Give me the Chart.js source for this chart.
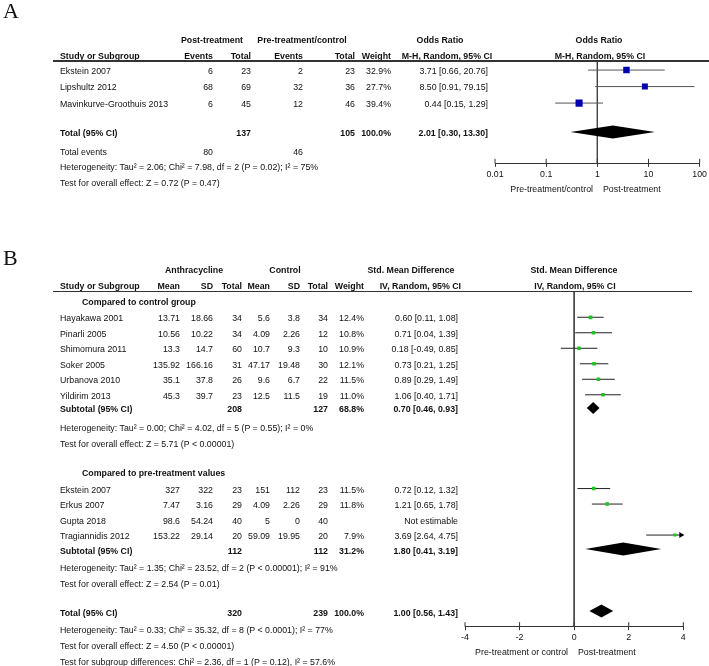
<!DOCTYPE html>
<html><head><meta charset="utf-8">
<script src="https://cdn.jsdelivr.net/npm/chart.js@4.4.1/dist/chart.umd.min.js"></script>
<style>
html,body{margin:0;padding:0;background:#fff;}
#wrap{position:relative;width:709px;height:666px;overflow:hidden;background:#fff;}
canvas{position:absolute;left:0;top:0;}
.t{position:absolute;white-space:nowrap;font-family:"Liberation Sans",Arial,sans-serif;font-size:8.8px;line-height:12px;color:#111;}
.b{font-weight:bold;}
.lab{position:absolute;font-family:"Liberation Serif","Times New Roman",serif;font-size:22px;line-height:22px;color:#111;}
.hr{position:absolute;height:1.5px;background:#333;}
</style></head>
<body><div id="wrap">
<canvas id="cA" width="709" height="666"></canvas>
<canvas id="cB" width="709" height="666"></canvas>
</div>
<script>
// ---------------- Panel A data ----------------
const studiesA = ['Ekstein 2007', 'Lipshultz 2012', 'Mavinkurve-Groothuis 2013'];
const postEvents = [6, 68, 6];
const postTotal = [23, 69, 45];
const preEvents = [2, 32, 12];
const preTotal = [23, 36, 46];
const weightA = [32.9, 27.7, 39.4];
const orA = [3.71, 8.50, 0.44];
const orLo = [0.66, 0.91, 0.15];
const orHi = [20.76, 79.15, 1.29];
const totalA = [2.01, 0.30, 13.30];      // estimate, lower, upper
const totalNA = [137, 105];
const totalEventsA = [80, 46];
const ticksA = [0.01, 0.1, 1, 10, 100];

// ---------------- Panel B data ----------------
const g1Names = ['Hayakawa 2001', 'Pinarli 2005', 'Shimomura 2011', 'Soker 2005', 'Urbanova 2010', 'Yildirim 2013'];
const g1Mean = [13.71, 10.56, 13.3, 135.92, 35.1, 45.3];
const g1SD = [18.66, 10.22, 14.7, 166.16, 37.8, 39.7];
const g1N = [34, 34, 60, 31, 26, 23];
const g1CMean = [5.6, 4.09, 10.7, 47.17, 9.6, 12.5];
const g1CSD = [3.8, 2.26, 9.3, 19.48, 6.7, 11.5];
const g1CN = [34, 12, 10, 30, 22, 19];
const g1Weight = [12.4, 10.8, 10.9, 12.1, 11.5, 11.0];
const g1SMD = [0.60, 0.71, 0.18, 0.73, 0.89, 1.06];
const g1Lo = [0.11, 0.04, -0.49, 0.21, 0.29, 0.40];
const g1Hi = [1.08, 1.39, 0.85, 1.25, 1.49, 1.71];
const sub1 = [0.70, 0.46, 0.93];
const sub1N = [208, 127];
const sub1W = 68.8;

const g2Names = ['Ekstein 2007', 'Erkus 2007', 'Gupta 2018', 'Tragiannidis 2012'];
const g2Mean = [327, 7.47, 98.6, 153.22];
const g2SD = [322, 3.16, 54.24, 29.14];
const g2N = [23, 29, 40, 20];
const g2CMean = [151, 4.09, 5, 59.09];
const g2CSD = [112, 2.26, 0, 19.95];
const g2CN = [23, 29, 40, 20];
const g2Weight = [11.5, 11.8, null, 7.9];
const g2SMD = [0.72, 1.21, null, 3.69];
const g2Lo = [0.12, 0.65, null, 2.64];
const g2Hi = [1.32, 1.78, null, 4.75];
const sub2 = [1.80, 0.41, 3.19];
const sub2N = [112, 112];
const sub2W = 31.2;

const totalB = [1.00, 0.56, 1.43];
const totalNB = [320, 239];
const ticksB = [-4, -2, 0, 2, 4];

// ---------------- layout ----------------
const wrap = document.getElementById('wrap');
const FONT = '"Liberation Sans", Arial, sans-serif';
const A_TOP = 61, A_AXIS = 163.3, A_ROW = 16.5;
const B_TOP = 291.7, B_AXIS = 626.7, B_ROW = 15.5;
const yA = u => A_TOP + u * A_ROW;
const yB = u => B_TOP + u * B_ROW;
const rowA = i => 0.55 + i;
const rowTotA = 4.3;
const rowG1 = i => 1.65 + i;
const rowSub1 = 7.5;
const rowG2 = i => 12.7 + i;
const rowSub2 = 16.6;
const rowTotB = 20.6;

function T(s, x, y, align, bold) {
  const d = document.createElement('div');
  d.className = 't' + (bold ? ' b' : '');
  d.textContent = s;
  d.style.left = x + 'px';
  d.style.top = (y - 6) + 'px';
  if (align === 'r') d.style.transform = 'translateX(-100%)';
  else if (align === 'c') d.style.transform = 'translateX(-50%)';
  wrap.appendChild(d);
}
function L(s, x, y) {
  const d = document.createElement('div');
  d.className = 'lab'; d.textContent = s;
  d.style.left = x + 'px'; d.style.top = y + 'px';
  wrap.appendChild(d);
}
function HR(x1, x2, y) {
  const d = document.createElement('div');
  d.className = 'hr';
  d.style.left = x1 + 'px'; d.style.width = (x2 - x1) + 'px'; d.style.top = (y - 0.75) + 'px';
  wrap.appendChild(d);
}
const ci = (e, l, h) => e.toFixed(2) + ' [' + l.toFixed(2) + ', ' + h.toFixed(2) + ']';
const pct = w => w.toFixed(1) + '%';

// ---------------- Panel A text ----------------
L('A', 3, 0);
T('Post-treatment', 212, 40, 'c', true);
T('Pre-treatment/control', 302, 40, 'c', true);
T('Odds Ratio', 440, 40, 'c', true);
T('Odds Ratio', 599, 40, 'c', true);
T('Study or Subgroup', 60, 55.7, 'l', true);
T('Events', 213, 55.7, 'r', true);
T('Total', 251, 55.7, 'r', true);
T('Events', 303, 55.7, 'r', true);
T('Total', 355, 55.7, 'r', true);
T('Weight', 391, 55.7, 'r', true);
T('M-H, Random, 95% CI', 447, 55.7, 'c', true);
T('M-H, Random, 95% CI', 600, 55.7, 'c', true);
HR(53, 709, 61);
studiesA.forEach((s, i) => {
  const y = yA(rowA(i)) + 0.5;
  T(s, 60, y, 'l');
  T(String(postEvents[i]), 213, y, 'r');
  T(String(postTotal[i]), 251, y, 'r');
  T(String(preEvents[i]), 303, y, 'r');
  T(String(preTotal[i]), 355, y, 'r');
  T(pct(weightA[i]), 391, y, 'r');
  T(ci(orA[i], orLo[i], orHi[i]), 488, y, 'r');
});
{
  const y = yA(rowTotA) + 1.5;
  T('Total (95% CI)', 60, y, 'l', true);
  T(String(totalNA[0]), 251, y, 'r', true);
  T(String(totalNA[1]), 355, y, 'r', true);
  T('100.0%', 391, y, 'r', true);
  T(ci(totalA[0], totalA[1], totalA[2]), 488, y, 'r', true);
}
T('Total events', 60, 151.7, 'l');
T(String(totalEventsA[0]), 213, 151.7, 'r');
T(String(totalEventsA[1]), 303, 151.7, 'r');
T('Heterogeneity: Tau² = 2.06; Chi² = 7.98, df = 2 (P = 0.02); I² = 75%', 60, 166.7, 'l');
T('Test for overall effect: Z = 0.72 (P = 0.47)', 60, 183.3, 'l');
T('Pre-treatment/control', 593, 189, 'r');
T('Post-treatment', 603, 189, 'l');

// ---------------- Panel B text ----------------
L('B', 3, 247);
T('Anthracycline', 194, 270, 'c', true);
T('Control', 285, 270, 'c', true);
T('Std. Mean Difference', 411, 270, 'c', true);
T('Std. Mean Difference', 574, 270, 'c', true);
T('Study or Subgroup', 60, 285.7, 'l', true);
T('Mean', 180, 285.7, 'r', true);
T('SD', 213, 285.7, 'r', true);
T('Total', 242, 285.7, 'r', true);
T('Mean', 270, 285.7, 'r', true);
T('SD', 300, 285.7, 'r', true);
T('Total', 328, 285.7, 'r', true);
T('Weight', 364, 285.7, 'r', true);
T('IV, Random, 95% CI', 461, 285.7, 'r', true);
T('IV, Random, 95% CI', 575, 285.7, 'c', true);
HR(53, 692, 291.7);
T('Compared to control group', 82, 301.7, 'l', true);
function studyRow(y, name, m, sd, n, cm, csd, cn, w, e, l, h) {
  T(name, 60, y, 'l');
  T(String(m), 180, y, 'r');
  T(String(sd), 213, y, 'r');
  T(String(n), 242, y, 'r');
  T(String(cm), 270, y, 'r');
  T(String(csd), 300, y, 'r');
  T(String(cn), 328, y, 'r');
  if (w != null) T(pct(w), 364, y, 'r');
  T(e != null ? ci(e, l, h) : 'Not estimable', 458, y, 'r');
}
g1Names.forEach((s, i) => studyRow(yB(rowG1(i)) + 1, s, g1Mean[i], g1SD[i], g1N[i], g1CMean[i], g1CSD[i], g1CN[i], g1Weight[i], g1SMD[i], g1Lo[i], g1Hi[i]));
function subRow(y, label, nn, w, est) {
  T(label, 60, y, 'l', true);
  T(String(nn[0]), 242, y, 'r', true);
  T(String(nn[1]), 328, y, 'r', true);
  T(pct(w), 364, y, 'r', true);
  T(ci(est[0], est[1], est[2]), 458, y, 'r', true);
}
subRow(yB(rowSub1) + 1.5, 'Subtotal (95% CI)', sub1N, sub1W, sub1);
T('Heterogeneity: Tau² = 0.00; Chi² = 4.02, df = 5 (P = 0.55); I² = 0%', 60, 428, 'l');
T('Test for overall effect: Z = 5.71 (P < 0.00001)', 60, 443.7, 'l');
T('Compared to pre-treatment values', 82, 473.3, 'l', true);
g2Names.forEach((s, i) => studyRow(yB(rowG2(i)) + 1, s, g2Mean[i], g2SD[i], g2N[i], g2CMean[i], g2CSD[i], g2CN[i], g2Weight[i], g2SMD[i], g2Lo[i], g2Hi[i]));
subRow(yB(rowSub2) + 1.5, 'Subtotal (95% CI)', sub2N, sub2W, sub2);
T('Heterogeneity: Tau² = 1.35; Chi² = 23.52, df = 2 (P < 0.00001); I² = 91%', 60, 568, 'l');
T('Test for overall effect: Z = 2.54 (P = 0.01)', 60, 584, 'l');
subRow(yB(rowTotB) + 1.5, 'Total (95% CI)', totalNB, 100, totalB);
T('Heterogeneity: Tau² = 0.33; Chi² = 35.32, df = 8 (P < 0.0001); I² = 77%', 60, 630, 'l');
T('Test for overall effect: Z = 4.50 (P < 0.00001)', 60, 646, 'l');
T('Test for subgroup differences: Chi² = 2.36, df = 1 (P = 0.12), I² = 57.6%', 60, 662, 'l');
T('Pre-treatment or control', 568, 652.3, 'r');
T('Post-treatment', 578, 652.3, 'l');

// ---------------- forest plot plugin ----------------
function forestPlugin(diamonds, arrows) {
  return {
    id: 'forest',
    afterDatasetsDraw(chart) {
      const { ctx, scales: { x, y } } = chart;
      ctx.save();
      ctx.fillStyle = '#000';
      diamonds.forEach(d => {
        const xl = x.getPixelForValue(d.lo), xc = x.getPixelForValue(d.est), xh = x.getPixelForValue(d.hi);
        const yc = y.getPixelForValue(d.row);
        ctx.beginPath();
        ctx.moveTo(xl, yc); ctx.lineTo(xc, yc - d.h); ctx.lineTo(xh, yc); ctx.lineTo(xc, yc + d.h);
        ctx.closePath(); ctx.fill();
      });
      arrows.forEach(a => {
        const xe = x.getPixelForValue(x.max), yc = y.getPixelForValue(a.row);
        ctx.beginPath();
        ctx.moveTo(xe + 1, yc); ctx.lineTo(xe - 4, yc - 3); ctx.lineTo(xe - 4, yc + 3);
        ctx.closePath(); ctx.fill();
      });
      ctx.restore();
    },
    afterDraw(chart) {
      const { ctx, scales: { x }, chartArea } = chart;
      ctx.save();
      ctx.strokeStyle = '#333'; ctx.lineWidth = 1;
      x.ticks.forEach(t => {
        const px = x.getPixelForValue(t.value);
        ctx.beginPath(); ctx.moveTo(px, chartArea.bottom - 4.5); ctx.lineTo(px, chartArea.bottom); ctx.stroke();
      });
      ctx.restore();
    }
  };
}
function ciDataset(lo, hi, row, color) {
  return { data: [{ x: lo, y: row }, { x: hi, y: row }], showLine: true, borderColor: color, borderWidth: 1, pointRadius: 0, order: 2 };
}
function xAxis(type, min, max, tickVals, fmt) {
  return {
    type, min, max,
    afterBuildTicks: s => { s.ticks = tickVals.map(v => ({ value: v })); },
    afterFit: s => { s.height = 18; },
    ticks: { callback: v => fmt(v), color: '#111', font: { family: FONT, size: 8.8 }, padding: 2, autoSkip: false, maxRotation: 0, minRotation: 0 },
    grid: { drawOnChartArea: false, drawTicks: true, tickLength: 3.5, color: '#333', lineWidth: 1 },
    border: { display: true, color: '#333', width: 1 }
  };
}
const common = {
  animation: false, responsive: false, devicePixelRatio: 1,
  plugins: { legend: { display: false }, tooltip: { enabled: false } }
};

// ---------------- Chart A ----------------
{
  const yMin = 0, yMax = (A_AXIS - A_TOP) / A_ROW;
  const datasets = [];
  datasets.push({ data: [{ x: 1, y: yMin }, { x: 1, y: yMax }], showLine: true, borderColor: '#444', borderWidth: 1, pointRadius: 0, order: 3 });
  studiesA.forEach((s, i) => datasets.push(ciDataset(orLo[i], orHi[i], rowA(i), '#555')));
  datasets.push({
    data: studiesA.map((s, i) => ({ x: orA[i], y: rowA(i) })),
    pointStyle: 'rect', pointRadius: weightA.map(w => Math.sqrt(w) * 0.8),
    backgroundColor: '#0000b0', borderColor: '#0000b0', borderWidth: 0, order: 1
  });
  new Chart(document.getElementById('cA'), {
    type: 'scatter',
    data: { datasets },
    options: Object.assign({}, common, {
      layout: { padding: { left: 495, right: 709 - 700.7, top: A_TOP, bottom: 666 - A_AXIS - 18 } },
      scales: {
        x: xAxis('logarithmic', ticksA[0], ticksA[ticksA.length - 1], ticksA, v => String(v)),
        y: { type: 'linear', reverse: true, min: yMin, max: yMax, display: false }
      }
    }),
    plugins: [forestPlugin([{ est: totalA[0], lo: totalA[1], hi: totalA[2], row: rowTotA, h: 6.5 }], [])]
  });
}

// ---------------- Chart B ----------------
{
  const yMin = 0, yMax = (B_AXIS - B_TOP) / B_ROW;
  const xMin = ticksB[0], xMax = ticksB[ticksB.length - 1];
  const datasets = [];
  datasets.push({ data: [{ x: 0, y: yMin }, { x: 0, y: yMax }], showLine: true, borderColor: '#444', borderWidth: 1, pointRadius: 0, order: 3 });
  const pts = [], radii = [], arrows = [];
  g1Names.forEach((s, i) => {
    datasets.push(ciDataset(g1Lo[i], g1Hi[i], rowG1(i), '#222'));
    pts.push({ x: g1SMD[i], y: rowG1(i) }); radii.push(Math.sqrt(g1Weight[i]) * 0.75);
  });
  g2Names.forEach((s, i) => {
    if (g2SMD[i] == null) return;
    datasets.push(ciDataset(g2Lo[i], g2Hi[i], rowG2(i), '#222'));
    pts.push({ x: g2SMD[i], y: rowG2(i) }); radii.push(Math.sqrt(g2Weight[i]) * 0.75);
    if (g2Hi[i] > xMax) arrows.push({ row: rowG2(i) });
  });
  datasets.push({ data: pts, pointStyle: 'rect', pointRadius: radii, backgroundColor: '#1fc41f', borderColor: '#1fc41f', borderWidth: 0, order: 1 });
  new Chart(document.getElementById('cB'), {
    type: 'scatter',
    data: { datasets },
    options: Object.assign({}, common, {
      layout: { padding: { left: 465, right: 709 - 683.3, top: B_TOP, bottom: 666 - B_AXIS - 18 } },
      scales: {
        x: xAxis('linear', xMin, xMax, ticksB, v => String(v)),
        y: { type: 'linear', reverse: true, min: yMin, max: yMax, display: false }
      }
    }),
    plugins: [forestPlugin([
      { est: sub1[0], lo: sub1[1], hi: sub1[2], row: rowSub1, h: 6 },
      { est: sub2[0], lo: sub2[1], hi: sub2[2], row: rowSub2, h: 6.5 },
      { est: totalB[0], lo: totalB[1], hi: totalB[2], row: rowTotB, h: 6.5 }
    ], arrows)]
  });
}
</script></body></html>
